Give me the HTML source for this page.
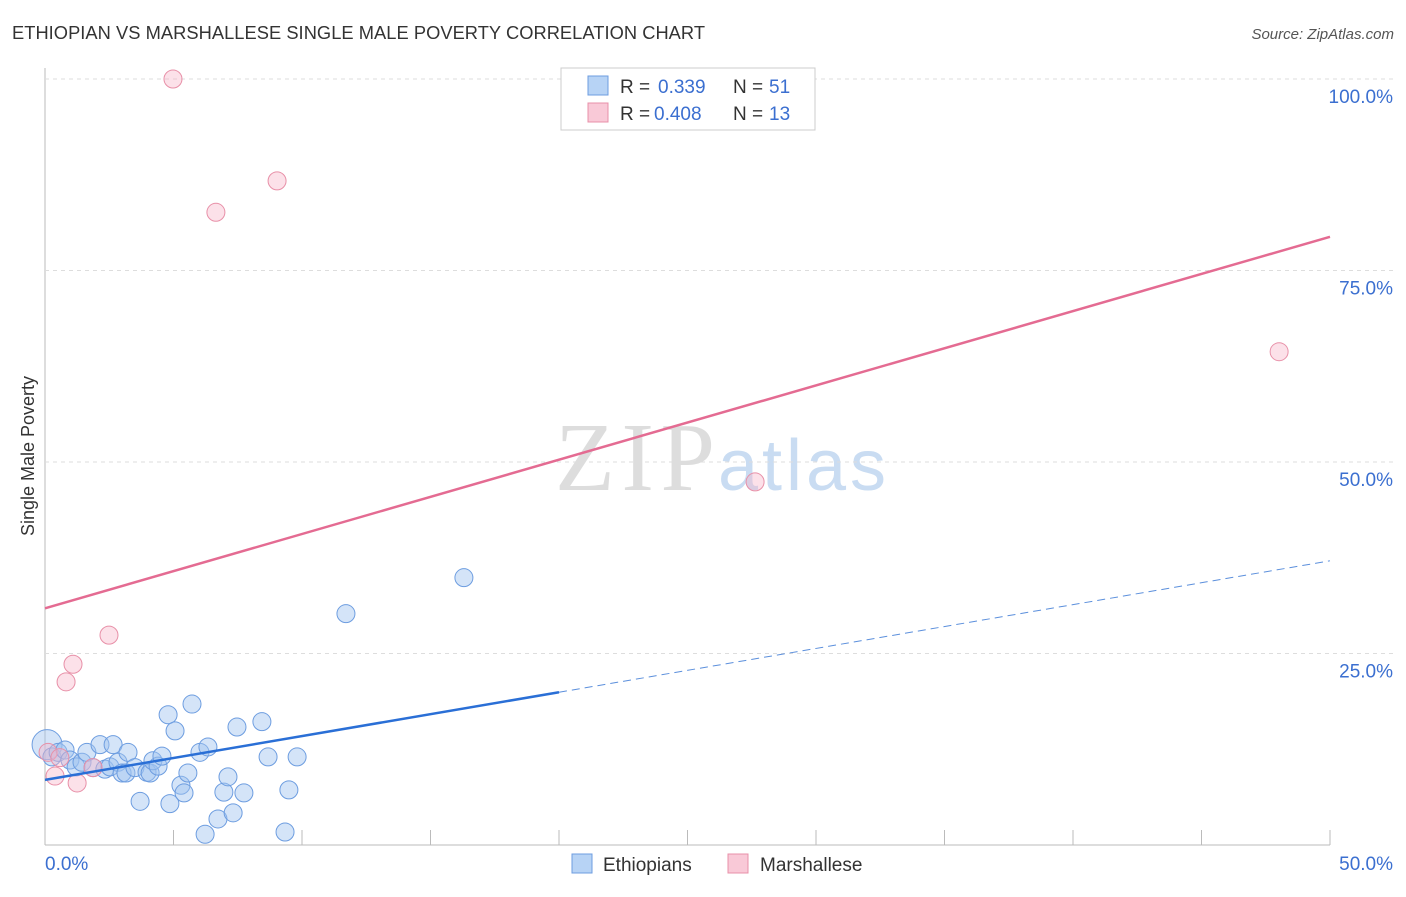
<!DOCTYPE html>
<html><head><meta charset="utf-8"><style>
body{margin:0;background:#fff;font-family:"Liberation Sans",sans-serif;}
svg text{font-family:"Liberation Sans",sans-serif;}
</style></head><body>
<svg id="c" width="1406" height="892">
<text x="12" y="39" font-size="18.3" fill="#333" textLength="693">ETHIOPIAN VS MARSHALLESE SINGLE MALE POVERTY CORRELATION CHART</text>
<text x="1394" y="39" font-size="15" fill="#555" font-style="italic" text-anchor="end">Source: ZipAtlas.com</text>
<text x="34" y="456" font-size="18" fill="#333" transform="rotate(-90 34 456)" text-anchor="middle">Single Male Poverty</text>
<text x="555" y="490" font-size="98" fill="#ddd" font-family="Liberation Serif" style="font-family:'Liberation Serif',serif" textLength="160">ZIP</text>
<text x="718" y="490" font-size="72" fill="#c9dcf2" textLength="168">atlas</text>
<g id="grid"></g><g id="marks"></g>
<g>
<rect x="561" y="68" width="254" height="62" fill="#fff" stroke="#ccc"/>
<rect x="588" y="76" width="20" height="19" fill="#b7d3f5" stroke="#6d9de0"/>
<text x="620" y="93" font-size="19" fill="#333">R =</text>
<text x="658" y="93" font-size="19" fill="#3b6fd0">0.339</text>
<text x="733" y="93" font-size="19" fill="#333">N =</text>
<text x="769" y="93" font-size="19" fill="#3b6fd0">51</text>
<rect x="588" y="103" width="20" height="19" fill="#f9c9d7" stroke="#e890a8"/>
<text x="620" y="120" font-size="19" fill="#333">R =</text>
<text x="654" y="120" font-size="19" fill="#3b6fd0">0.408</text>
<text x="733" y="120" font-size="19" fill="#333">N =</text>
<text x="769" y="120" font-size="19" fill="#3b6fd0">13</text>
</g>
<g>
<rect x="572" y="854" width="20" height="19" fill="#b7d3f5" stroke="#6d9de0"/>
<text x="603" y="871" font-size="19" fill="#333">Ethiopians</text>
<rect x="728" y="854" width="20" height="19" fill="#f9c9d7" stroke="#e890a8"/>
<text x="760" y="871" font-size="19" fill="#333">Marshallese</text>
</g>
<text x="45" y="870" font-size="19" fill="#3b6fd0">0.0%</text>
<text x="1393" y="870" font-size="19" fill="#3b6fd0" text-anchor="end">50.0%</text>
</svg>
<script>
const yTicks=[25,50,75,100];
const blueX=[0.08,0.27,0.51,0.78,0.97,1.21,1.44,1.63,1.87,2.14,2.33,2.53,2.65,2.84,3.0,3.15,3.23,3.5,3.7,3.97,4.09,4.2,4.4,4.55,4.79,4.86,5.06,5.29,5.41,5.56,5.72,6.03,6.23,6.34,6.73,6.96,7.12,7.32,7.47,7.74,8.44,8.68,9.34,9.49,9.81,11.71,16.3];
const blueY=[13.1,11.5,12.1,12.4,11.1,10.2,10.8,12.1,10.1,13.1,9.9,10.2,13.1,10.8,9.4,9.4,12.1,10.1,5.7,9.5,9.4,11.0,10.3,11.6,17.0,5.4,14.9,7.8,6.8,9.4,18.4,12.1,1.4,12.8,3.4,6.9,8.9,4.2,15.4,6.8,16.1,11.5,1.7,7.2,11.5,30.2,34.9];
const pinkX=[4.98,6.65,9.03,2.49,1.09,0.82,0.39,1.25,1.87,0.12,27.63,48.02,0.58];
const pinkY=[100,82.6,86.7,27.4,23.6,21.3,9.0,8.1,10.1,12.1,47.4,64.4,11.4];
const blueLine=[8.5,37.1];const blueSolidEnd=20;
const pinkLine=[30.9,79.4];
const NS='http://www.w3.org/2000/svg';
const X=v=>45+v*25.7, Y=v=>845-v*7.66;
function mk(p,t,a){const e=document.createElementNS(NS,t);for(const k in a)e.setAttribute(k,a[k]);p.appendChild(e);return e;}
const g=document.getElementById('grid'),m=document.getElementById('marks');
mk(g,'line',{x1:45,y1:68,x2:45,y2:845,stroke:'#bbb'});
mk(g,'line',{x1:45,y1:845,x2:1330,y2:845,stroke:'#bbb'});
for(let i=1;i<=10;i++){const l=mk(g,'line',{x1:X(i*5),x2:X(i*5),y1:830,y2:845,stroke:'#bbb'});

}
yTicks.forEach(t=>{const l=mk(g,'line',{x1:45,x2:1395,y1:Y(t),y2:Y(t),stroke:'#ddd','stroke-dasharray':'4,4'});


const tx=mk(g,'text',{x:1393,y:Y(t)+24,'font-size':19,fill:'#3b6fd0','text-anchor':'end'});tx.textContent=t.toFixed(1)+'%';

});
blueX.forEach((x,i)=>{const c=mk(m,'circle',{cx:X(x),cy:Y(blueY[i]),r:i==0?15:9,fill:'rgba(160,196,240,0.45)',stroke:'#6d9de0','stroke-width':1});

});
pinkX.forEach((x,i)=>{const c=mk(m,'circle',{cx:X(x),cy:Y(pinkY[i]),r:9,fill:'rgba(248,180,200,0.4)',stroke:'#e890a8','stroke-width':1});

});
const by=x=>blueLine[0]+(blueLine[1]-blueLine[0])*x/50;
let l=mk(m,'line',{x1:X(0),y1:Y(by(0)),x2:X(blueSolidEnd),y2:Y(by(blueSolidEnd)),stroke:'#2a6fd6','stroke-width':2.5});


l=mk(m,'line',{x1:X(blueSolidEnd),y1:Y(by(blueSolidEnd)),x2:X(50),y2:Y(by(50)),stroke:'#5b8fdc','stroke-width':1,'stroke-dasharray':'8,5'});


l=mk(m,'line',{x1:X(0),y1:Y(pinkLine[0]),x2:X(50),y2:Y(pinkLine[1]),stroke:'#e46b92','stroke-width':2.5});


</script>
</body></html>
